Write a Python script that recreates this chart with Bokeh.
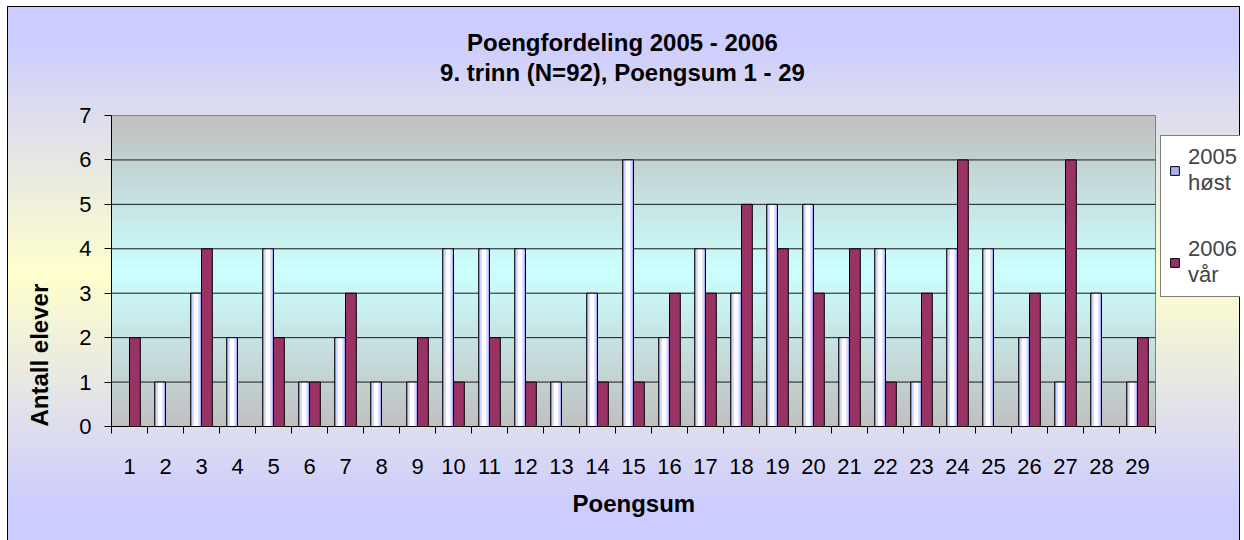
import numpy as np
from bokeh.plotting import figure
from bokeh.models import (ColumnDataSource, FixedTicker, Range1d, Title, Label, Legend, LegendItem)
from bokeh.transform import dodge
from bokeh.embed import file_html
from bokeh.resources import INLINE

# ---- data ----
categories = list(range(1, 30))
tick_labels = [str(c) for c in categories]
host_2005 = [0, 1, 3, 2, 4, 1, 2, 1, 1, 4, 4, 4, 1, 3, 6, 2, 4, 3, 5, 5, 2, 4, 1, 4, 4, 2, 1, 3, 1]
var_2006 = [2, 0, 4, 0, 2, 1, 3, 0, 2, 1, 2, 1, 0, 1, 1, 3, 3, 5, 4, 3, 4, 1, 3, 6, 0, 3, 6, 0, 2]
y_ticks = list(range(0, 8))
title_lines = ["Poengfordeling 2005 - 2006", "9. trinn (N=92), Poengsum 1 - 29"]
series_names = ["2005\nhøst", "2006\nvår"]
x_title = "Poengsum"
y_title = "Antall elever"

FONT = "Liberation Sans"
W, H = 1237, 534            # figure (placed 3px/6px into the page)
BL, BB = 108, 114           # left / bottom borders (axes)
PLOT_W, PLOT_H = 1044, 311  # visible plot area in px
FW, FH = W - BL, H - BB     # frame extends to the right and top edges

x0 = categories[0] - 0.5
x1 = categories[-1] + 0.5
ymax = y_ticks[-1]
x_end = x0 + (x1 - x0) * FW / PLOT_W
y_end = ymax * FH / PLOT_H

src = ColumnDataSource(dict(x=categories, a=host_2005, b=var_2006))

p = figure(width=W, height=H, x_range=Range1d(x0, x_end), y_range=Range1d(0, y_end),
           output_backend="svg", toolbar_location=None,
           min_border_left=BL, min_border_right=0, min_border_top=0, min_border_bottom=BB)

p.background_fill_color = None
p.border_fill_color = None
p.outline_line_color = None
p.styles = {
    "margin-left": "3px",
    "margin-top": "6px",
    "background": "linear-gradient(to bottom, #CCCCFF 0%, #CCCCFF 6%, #FFFFCC 50%, #CCCCFF 94%, #CCCCFF 100%)",
    "box-shadow": ("inset 4px 0 0 0 #FFFFFF, inset 5px 0 0 0 #000000, "
                   "inset 0 1px 0 0 #000000, inset -1px 0 0 0 #000000"),
}

# plot-area gradient (gray - cyan - gray)
n = 311
t = np.abs(np.linspace(-1.0, 1.0, n))
gray = np.array([192, 192, 192], dtype=float)
cyan = np.array([204, 255, 255], dtype=float)
cols = cyan[None, :] * (1 - t[:, None]) + gray[None, :] * t[:, None]
img = np.zeros((n, 2), dtype=np.uint32)
view = img.view(dtype=np.uint8).reshape((n, 2, 4))
view[:, :, 0:3] = cols[:, None, :].astype(np.uint8)
view[:, :, 3] = 255
p.image_rgba(image=[img], x=x0, y=0, dw=x1 - x0, dh=ymax)

# plot-area border and horizontal grid lines
p.quad(left=[x0], right=[x1], bottom=[0], top=[ymax], fill_color=None,
       line_color="#808080", line_width=1)
grid_y = y_ticks[1:-1]
p.segment(x0=[x0] * len(grid_y), x1=[x1] * len(grid_y), y0=grid_y, y1=grid_y,
          line_color="#1a1a1a", line_width=1)

# 2005 bars: lavender-white-lavender
a_base = p.vbar(x=dodge("x", -0.15), top="a", width=0.30, source=src,
                fill_color="#AEAEF2", line_color=None)
p.vbar(x=dodge("x", -0.15), top="a", width=0.22, source=src,
       fill_color="#DADAFF", line_color=None)
p.vbar(x=dodge("x", -0.15), top="a", width=0.12, source=src,
       fill_color="#FFFFFF", line_color=None)
a_line = p.vbar(x=dodge("x", -0.15), top="a", width=0.30, source=src,
                fill_color=None, line_color="black", line_width=1)
# 2006 bars
b_bar = p.vbar(x=dodge("x", 0.15), top="b", width=0.30, source=src,
               fill_color="#993366", line_color="black", line_width=1)

# axes
p.xaxis.bounds = (x0, x1)
p.xaxis.ticker = FixedTicker(ticks=categories,
                             minor_ticks=[c - 0.5 for c in categories] + [x1])
p.xaxis.major_label_overrides = {c: l for c, l in zip(categories, tick_labels)}
p.xaxis.major_tick_out = 0
p.xaxis.major_tick_in = 0
p.xaxis.minor_tick_line_color = "black"
p.xaxis.minor_tick_out = 7
p.xaxis.minor_tick_in = 0
p.xaxis.major_label_standoff = 25

p.yaxis.bounds = (0, ymax)
p.yaxis.ticker = FixedTicker(ticks=y_ticks)
p.yaxis.major_tick_out = 7
p.yaxis.major_tick_in = 0
p.yaxis.minor_tick_line_color = None
p.yaxis.major_label_standoff = 13

for ax in (p.xaxis, p.yaxis):
    ax.axis_line_color = "black"
    ax.major_label_text_font = FONT
    ax.major_label_text_font_size = "22px"
    ax.major_label_text_color = "black"
p.xaxis.major_tick_line_color = None
p.yaxis.major_tick_line_color = "black"
p.grid.visible = False

# axis titles
p.add_layout(Title(text=x_title, align="left", offset=461, standoff=27, vertical_align="top",
                   text_font=FONT, text_font_size="24px", text_font_style="bold",
                   text_color="black"), "below")
p.add_layout(Title(text=y_title, align="left", offset=0, standoff=44, vertical_align="top",
                   text_font=FONT, text_font_size="24px", text_font_style="bold",
                   text_color="black"), "left")

# chart title (inside the extended frame)
title_y = [384, 354]
for line, yy in zip(title_lines, title_y):
    p.add_layout(Label(x=511, y=yy, x_units="screen", y_units="screen",
                       text=line, text_align="center", text_baseline="middle",
                       text_font=FONT, text_font_size="24px", text_font_style="bold",
                       text_color="black"))

legend = Legend(items=[LegendItem(label=series_names[0], renderers=[a_base, a_line]),
                       LegendItem(label=series_names[1], renderers=[b_bar])],
                location=(1049, 129))
legend.label_text_font = FONT
legend.label_text_font_size = "22px"
legend.label_text_line_height = 1.35
legend.glyph_width = 11
legend.glyph_height = 11
legend.label_standoff = 8
legend.padding = 8
legend.spacing = 40
legend.margin = 0
legend.border_line_color = "black"
legend.border_line_width = 1
legend.background_fill_color = "white"
legend.background_fill_alpha = 1
p.add_layout(legend)

open("out.html", "w").write(file_html(p, INLINE))
